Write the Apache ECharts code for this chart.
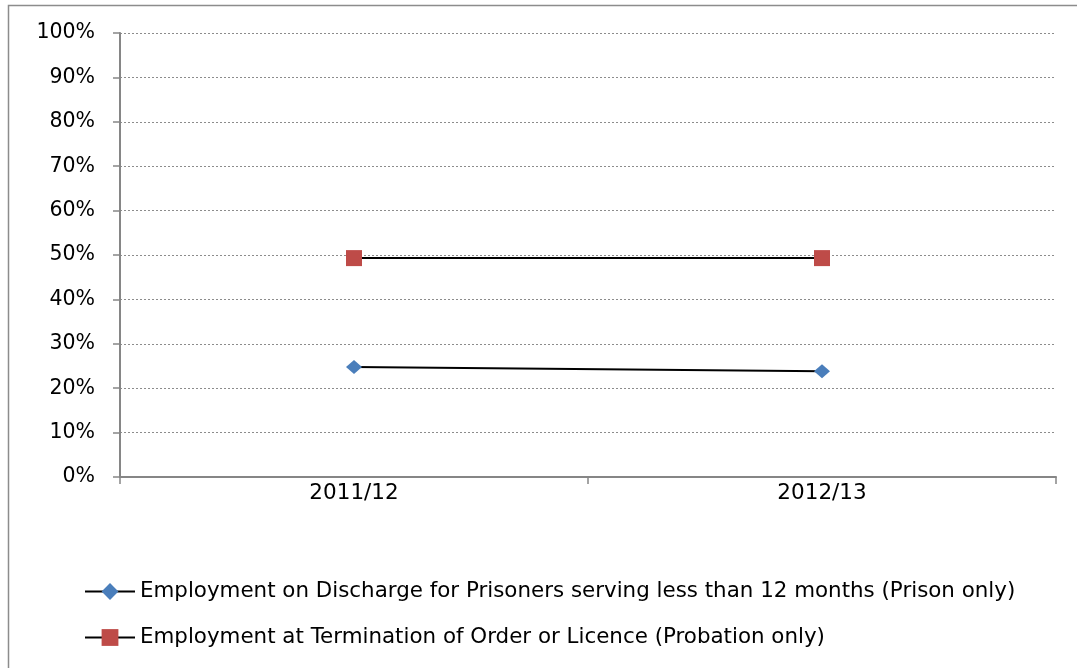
<!DOCTYPE html>
<html>
<head>
<meta charset="utf-8">
<script src="https://cdn.jsdelivr.net/npm/echarts@6/dist/echarts.min.js"></script>
<style>
  html, body { margin: 0; padding: 0; background: #fff; }
  #chart { width: 1077px; height: 668px; }
</style>
</head>
<body>
<div id="chart"></div>
<script>
// Financial years on the category axis
const years = ['2011/12', '2012/13'];

// Employment rates (%)
const prisonSeriesName = 'Employment on Discharge for Prisoners serving less than 12 months (Prison only)';
const prisonValues = [24.8, 23.8];

const probationSeriesName = 'Employment at Termination of Order or Licence (Probation only)';
const probationValues = [49.3, 49.3];

const fontFamily = '"DejaVu Sans", sans-serif';
const axisGrey = '#868686';

const chart = echarts.init(document.getElementById('chart'));
chart.setOption({
  animation: false,
  backgroundColor: '#ffffff',
  graphic: [{
    type: 'rect',
    shape: { x: 8.5, y: 5.5, width: 1100, height: 700 },
    style: { fill: 'none', stroke: '#8c8c8c', lineWidth: 1.5 },
    silent: true,
    z: -1
  }],
  grid: { left: 120, right: 21, top: 33, bottom: 191 },
  xAxis: {
    type: 'category',
    data: years,
    boundaryGap: true,
    axisLine: { lineStyle: { color: axisGrey, width: 2 } },
    axisTick: { show: true, length: 7, inside: false, lineStyle: { color: axisGrey, width: 1.5 } },
    axisLabel: { color: '#000', fontFamily, fontSize: 21.5, margin: 5 }
  },
  yAxis: {
    type: 'value',
    min: 0,
    max: 100,
    interval: 10,
    axisLine: { show: true, lineStyle: { color: axisGrey, width: 2 } },
    axisTick: { show: true, length: 7, lineStyle: { color: axisGrey, width: 1.5 } },
    axisLabel: { color: '#000', fontFamily, fontSize: 20.5, margin: 25, formatter: '{value}%' },
    splitLine: { show: true, lineStyle: { color: '#8c8c8c', type: [2, 2], width: 1 } }
  },
  legend: {
    orient: 'vertical',
    left: 79,
    top: 576,
    itemWidth: 50,
    itemHeight: 21,
    itemGap: 25,
    textStyle: { color: '#000', fontFamily, fontSize: 21.4 },
    data: [prisonSeriesName, probationSeriesName]
  },
  series: [
    {
      name: prisonSeriesName,
      type: 'line',
      data: prisonValues,
      symbol: 'diamond',
      symbolSize: [16, 14],
      lineStyle: { color: '#000', width: 2 },
      itemStyle: { color: '#4a7ebb' }
    },
    {
      name: probationSeriesName,
      type: 'line',
      data: probationValues,
      symbol: 'rect',
      symbolSize: 16,
      lineStyle: { color: '#000', width: 2 },
      itemStyle: { color: '#be4b48' }
    }
  ]
});
</script>
</body>
</html>
